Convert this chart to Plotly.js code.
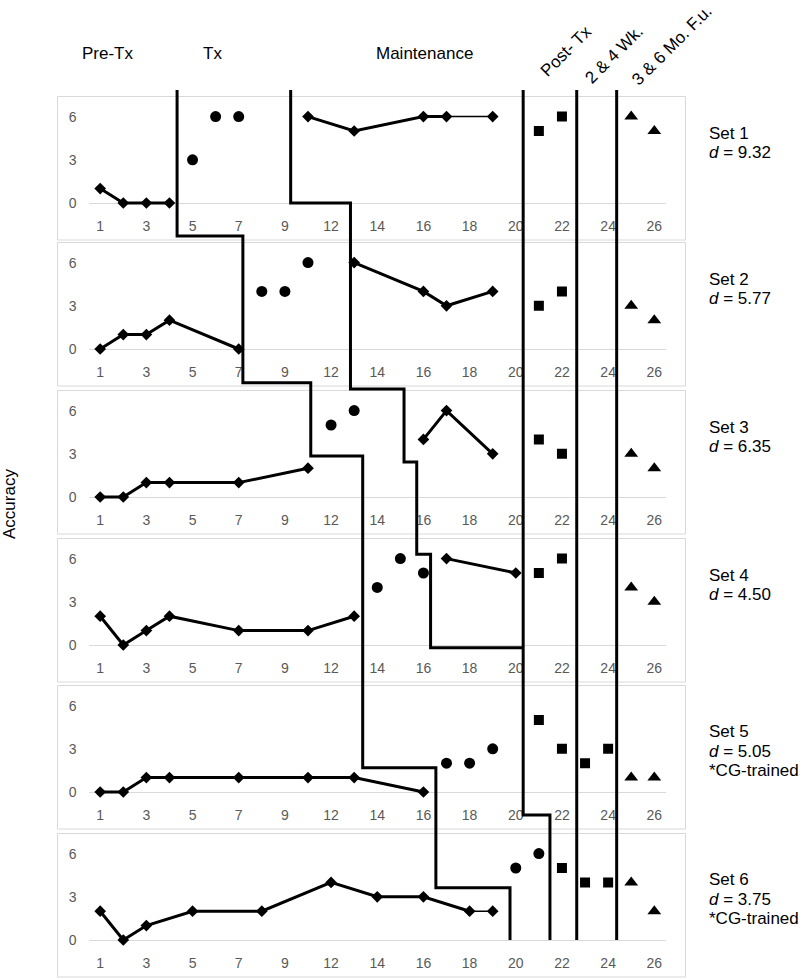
<!DOCTYPE html>
<html><head><meta charset="utf-8">
<script src="https://cdn.plot.ly/plotly-3.0.1.min.js"></script>
<style>html,body{margin:0;padding:0;background:#fff}#chart{width:800px;height:978px}</style>
</head><body><div id="chart"></div>
<script>
// ---------- data ----------
const sessionTickVals = [1,3,5,7,9,11,13,15,17,19,21,23,25];
const sessionTickText = ['1','3','5','7','9','12','14','16','18','20','22','24','26'];
const accuracyTicks = [0,3,6];

const setNames = ['Set 1','Set 2','Set 3','Set 4','Set 5','Set 6'];
const effectSizes = ['9.32','5.77','6.35','4.50','5.05','3.75'];
const setNotes = ['','','','','*CG-trained','*CG-trained'];

const baselineX = [[1,2,3,4],[1,2,3,4,7],[1,2,3,4,7,10],[1,2,3,4,7,10,12],[1,2,3,4,7,10,12,15],[1,2,3,5,8,11,13,15,17,18]];
const baselineY = [[1,0,0,0],[0,1,1,2,0],[0,0,1,1,1,2],[2,0,1,2,1,1,2],[0,0,1,1,1,1,1,0],[2,0,1,2,2,4,3,3,2,2]];
const treatmentX = [[5,6,7],[8,9,10],[11,12],[13,14,15],[16,17,18],[19,20]];
const treatmentY = [[3,6,6],[4,4,6],[5,6],[4,6,5],[2,2,3],[5,6]];
const maintenanceX = [[10,12,15,16,18],[12,15,16,18],[15,16,18],[16,19],[],[]];
const maintenanceY = [[6,5,6,6,6],[6,4,3,4],[4,6,3],[6,5],[],[]];
const postTxX = [[20,21],[20,21],[20,21],[20,21],[20,21,22,23],[21,22,23]];
const postTxY = [[5,6],[3,4],[4,3],[5,6],[5,3,2,3],[5,4,4]];
const followUpX = [[24,25],[24,25],[24,25],[24,25],[24,25],[24,25]];
const followUpY = [[6,5],[3,2],[3,2],[4,3],[1,1],[4,2]];
// segments drawn with a thin line (start session of the segment)
const thinBaselineFrom = [null,null,null,null,null,17];
const thinMaintenanceFrom = [16,null,null,null,null,null];

const phaseHeaders = ['Pre-Tx','Tx','Maintenance'];
const followHeaders = ['Post- Tx','2 &amp; 4 Wk.','3 &amp; 6 Mo. F.u.'];

// phase-change lines: session positions and pixel rows of their vertices
const phaseLineX = [
  [4.33,4.33,7.18,7.18,10.12,10.12,12.37,12.37,15.54,15.54,18.75,18.75],
  [9.25,9.25,11.84,11.84,14.16,14.16,14.71,14.71,15.31,15.31,19.32],
  [19.32,19.32,20.48,20.48],
  [21.64,21.64],
  [23.37,23.37]
];
const phaseLinePx = [
  [90,236,236,382.7,382.7,456,456,767.7,767.7,887.7,887.7,940],
  [90,203,203,389,389,462,462,554.3,554.3,647.7,647.7],
  [90,815,815,940],
  [90,940],
  [90,940]
];

// ---------- layout geometry ----------
const W = 800, H = 978;
const FONT = 'Liberation Sans, Arial, Helvetica, sans-serif';
const zeroPx = [203, 349, 497, 645, 792, 940];
const unitPx = 14.4;
const yMin = -0.6, yMax = 7.2;
const xDom = [88.65/W, 665.85/W];
const py = p => 1 - p/H;
const px = p => p/W;

const traces = [];
const layout = {
  width: W, height: H, autosize: false,
  margin: {l:0, r:0, t:0, b:0},
  paper_bgcolor: '#ffffff', plot_bgcolor: 'rgba(0,0,0,0)',
  showlegend: false, shapes: [], annotations: [],
  font: {family: FONT, color: '#000'}
};

function splitLine(xs, ys, thinFrom) {
  const thick = {x:[], y:[]}, thin = {x:[], y:[]};
  for (let i = 0; i < xs.length; i++) {
    thick.x.push(xs[i]); thick.y.push(ys[i]);
    if (i < xs.length - 1 && xs[i] === thinFrom) {
      thin.x.push(xs[i], xs[i+1], null); thin.y.push(ys[i], ys[i+1], null);
      thick.x.push(null); thick.y.push(null);
    }
  }
  return {thick, thin};
}

for (let k = 0; k < 6; k++) {
  const xn = k === 0 ? 'x' : 'x' + (k+1);
  const yn = k === 0 ? 'y' : 'y' + (k+1);
  const xk = k === 0 ? 'xaxis' : 'xaxis' + (k+1);
  const yk = k === 0 ? 'yaxis' : 'yaxis' + (k+1);
  const y0 = zeroPx[k];
  const topPx = y0 - yMax*unitPx, botPx = y0 - yMin*unitPx;
  layout[xk] = {
    domain: xDom, range: [0.5, 25.5], anchor: yn,
    tickmode: 'array', tickvals: sessionTickVals, ticktext: sessionTickText,
    showgrid: false, zeroline: false, showline: false, ticks: '',
    tickfont: {family: FONT, size: 14, color: '#595959'}, fixedrange: true,
    ticklabelstandoff: 4
  };
  layout[yk] = {
    domain: [py(botPx), py(topPx)], range: [yMin, yMax], anchor: xn,
    tickmode: 'array', tickvals: accuracyTicks,
    showgrid: false, zeroline: true, zerolinecolor: '#d9d9d9', zerolinewidth: 1,
    showline: false, ticks: '',
    tickfont: {family: FONT, size: 14, color: '#595959'}, fixedrange: true,
    ticklabelstandoff: 11
  };
  // panel frame
  layout.shapes.push({type:'rect', xref:'paper', yref:'paper', layer:'below',
    x0: px(57.5), x1: px(685.5), y0: py(y0+37), y1: py(y0-106.5),
    line:{color:'#d9d9d9', width:1}, fillcolor:'#ffffff'});

  const lineStyle = w => ({color:'#000', width:w});
  [[baselineX[k], baselineY[k], thinBaselineFrom[k]], [maintenanceX[k], maintenanceY[k], thinMaintenanceFrom[k]]].forEach(([xs, ys, tf]) => {
    if (!xs.length) return;
    const s = splitLine(xs, ys, tf);
    traces.push({x:s.thick.x, y:s.thick.y, xaxis:xn, yaxis:yn, mode:'lines', line:lineStyle(3), connectgaps:false, hoverinfo:'skip'});
    if (s.thin.x.length) traces.push({x:s.thin.x, y:s.thin.y, xaxis:xn, yaxis:yn, mode:'lines', line:lineStyle(1.5), connectgaps:false, hoverinfo:'skip'});
    traces.push({x:xs, y:ys, xaxis:xn, yaxis:yn, mode:'markers', marker:{symbol:'diamond', size:9, color:'#000'}});
  });
  traces.push({x:treatmentX[k], y:treatmentY[k], xaxis:xn, yaxis:yn, mode:'markers', marker:{symbol:'circle', size:11, color:'#000'}});
  traces.push({x:postTxX[k], y:postTxY[k], xaxis:xn, yaxis:yn, mode:'markers', marker:{symbol:'square', size:10, color:'#000'}});
  traces.push({x:followUpX[k], y:followUpY[k], xaxis:xn, yaxis:yn, mode:'markers', marker:{symbol:'triangle-up', size:12, color:'#000'}});

  // right-hand labels
  const lines = [setNames[k], '<i>d</i> = ' + effectSizes[k]];
  if (setNotes[k]) lines.push(setNotes[k]);
  const centre = y0 - (setNotes[k] ? 41 : 60);
  const spacing = 19.5;
  lines.forEach((t, i) => {
    layout.annotations.push({text:t, xref:'paper', yref:'paper', x:px(707), xanchor:'left',
      y: py(centre + (i - (lines.length-1)/2)*spacing), yanchor:'middle', showarrow:false,
      font:{family:FONT, size:17, color:'#000'}});
  });
}

// phase-change lines
phaseLineX.forEach((xs, i) => {
  const pts = xs.map((x, j) => x + ',' + py(phaseLinePx[i][j]));
  layout.shapes.push({type:'path', xref:'x', yref:'paper', layer:'above',
    path: 'M ' + pts.join(' L '), line:{color:'#000', width:3}});
});

// headers
const headerX = [108.4, 212, 424.7];
phaseHeaders.forEach((t, i) => layout.annotations.push({text:t, xref:'paper', yref:'paper',
  x:px(headerX[i]), y:py(53.3), xanchor:'center', yanchor:'middle', showarrow:false,
  font:{family:FONT, size:17, color:'#000'}}));
const followCx = [566, 614, 672], followCy = [52, 54, 46];
followHeaders.forEach((t, i) => layout.annotations.push({text:t, xref:'paper', yref:'paper',
  x:px(followCx[i]), y:py(followCy[i]), xanchor:'center', yanchor:'middle', showarrow:false,
  textangle:-45, font:{family:FONT, size:17, color:'#000'}}));

layout.annotations.push({text:'Accuracy', xref:'paper', yref:'paper', x:px(9), y:py(504),
  xanchor:'center', yanchor:'middle', showarrow:false, textangle:-90,
  font:{family:FONT, size:17, color:'#000'}});

Plotly.newPlot('chart', traces, layout, {staticPlot:true, displayModeBar:false});
</script>
</body></html>
